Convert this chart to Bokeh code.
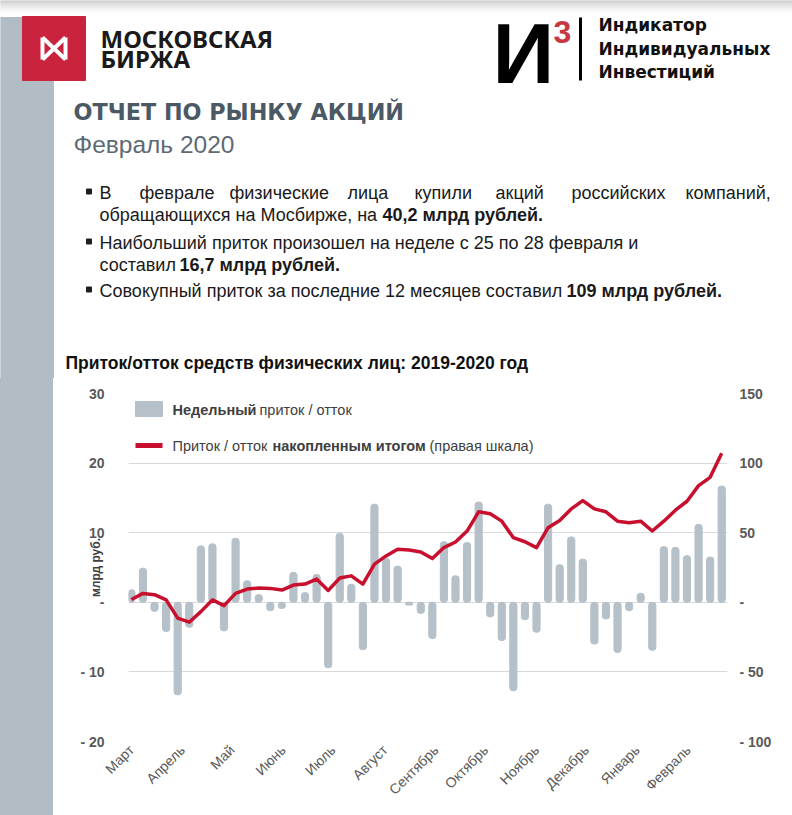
import math
from bokeh.plotting import figure
from bokeh.models import Range1d, LinearAxis, Label, FixedTicker, CustomJSTickFormatter, Div
from bokeh.layouts import column, row
from bokeh.embed import file_html
from bokeh.resources import INLINE

# ---------------- data ----------------
weeks = list(range(52))
weekly_flow = [1.8, 4.9, -1.3, -4.2, -13.3, -3.6, 8.1, 8.4, -4.1, 9.2,
               3.1, 1.1, -1.2, -0.9, 4.3, 1.4, 4.0, -9.4, 9.9, 2.6,
               -6.8, 14.1, 6.3, 5.2, -0.4, -1.6, -5.2, 8.7, 3.8, 8.6,
               14.4, -2.1, -5.5, -12.7, -2.5, -4.3, 14.1, 5.4, 9.4, 6.2,
               -6.0, -2.4, -7.2, -1.2, 1.3, -6.9, 8.0, 7.9, 6.7, 11.2,
               6.5, 16.7]
cumulative = [2.0, 6.4, 5.5, 1.7, -11.4, -14.3, -6.7, 1.7, -2.4, 6.4,
              9.5, 10.2, 10.0, 8.8, 12.4, 13.1, 16.7, 8.5, 17.4, 19.0,
              13.1, 27.4, 33.3, 38.1, 37.6, 36.2, 31.4, 39.3, 43.3, 51.2,
              65.0, 63.6, 58.3, 46.4, 43.5, 39.3, 53.6, 58.8, 67.1, 73.1,
              67.1, 65.0, 58.3, 57.1, 58.3, 51.2, 58.3, 66.2, 72.6, 83.8,
              89.8, 107.1]
months = ["Март", "Апрель", "Май", "Июнь", "Июль", "Август", "Сентябрь",
          "Октябрь", "Ноябрь", "Декабрь", "Январь", "Февраль"]
month_weeks = [0, 4.4, 8.7, 13.1, 17.4, 21.9, 26.3, 30.6, 35.0, 39.3, 43.7, 48.1]
left_ticks = [-20, -10, 0, 10, 20, 30]
right_ticks = [-100, -50, 0, 50, 100, 150]

# ---------------- styles ----------------
W, H1, H2, SIDE = 792, 378, 437, 53
SIDEBAR = "#b1bcc4"
RED = "#c9233e"
BAR = "#b5c0c8"
LINE = "#c8102e"
FONT = "Liberation Sans"


def lab(fig, x, y, text, size, color="#1a1a1a", bold=False, font=FONT,
        align="left", baseline="middle", angle=0):
    fig.add_layout(Label(x=x, y=y, text=text, text_font=font,
                         text_font_size=f"{size}px", text_color=color,
                         text_font_style="bold" if bold else "normal",
                         text_align=align, text_baseline=baseline, angle=angle))


# ---------------- header ----------------
hdr = figure(width=W, height=H1, x_range=Range1d(0, W), y_range=Range1d(H1, 0),
             output_backend="svg", toolbar_location=None, min_border=0,
             x_axis_location=None, y_axis_location=None, outline_line_color=None)
hdr.grid.visible = False

grad = ["#cdcdcd", "#d2d2d2", "#d7d7d7", "#dcdcdc", "#e1e1e1", "#e5e5e5", "#e9e9e9",
        "#ededed", "#f1f1f1", "#f4f4f4", "#f7f7f7", "#f9f9f9", "#fbfbfb", "#fdfdfd", "#fefefe"]
hdr.quad(left=0, right=W, top=list(range(15)), bottom=list(range(1, 16)), color=grad)
hdr.quad(left=0, right=SIDE, top=17, bottom=H1 + 2, color=SIDEBAR)
hdr.quad(left=22, right=85, top=16, bottom=80, color=RED)
hdr.multi_line(xs=[[42, 42], [65, 65], [42, 65], [65, 42]],
               ys=[[37, 59], [37, 59], [37, 59], [37, 59]],
               line_color="white", line_width=4)
lab(hdr, 100, 38, "МОСКОВСКАЯ", 24, color="#1a1a1a", bold=True, font="Noto Sans")
lab(hdr, 100, 58, "БИРЖА", 24, color="#1a1a1a", bold=True, font="Noto Sans")

lab(hdr, 492, 52, "И", 86, color="black", bold=True)
lab(hdr, 553, 31, "3", 32, color="#c4393f", bold=True)
hdr.segment(x0=580, y0=17, x1=580, y1=80, line_width=3, line_color="black")
for yy, t in zip([24, 48, 71], ["Индикатор", "Индивидуальных", "Инвестиций"]):
    lab(hdr, 598, yy, t, 17, color="#111111", bold=True, font="DejaVu Sans")

lab(hdr, 73, 111, "ОТЧЕТ ПО РЫНКУ АКЦИЙ", 22.3, color="#4b5964", bold=True, font="DejaVu Sans")
lab(hdr, 73, 144, "Февраль 2020", 24.5, color="#5d6a74")

for yc in [191, 241, 289]:
    hdr.quad(left=86, right=91, top=yc - 2.5, bottom=yc + 2.5, color="#1f1f1f")

FS = 18
line1 = ["В", "феврале", "физические", "лица", "купили", "акций", "российских", "компаний,"]
line1_x = [99, 139, 229, 347, 414, 495, 571, 685]
for w, xx in zip(line1, line1_x):
    lab(hdr, xx, 192, w, FS)
lab(hdr, 99, 214, "обращающихся на Мосбирже, на", FS)
lab(hdr, 382, 214, "40,2 млрд рублей.", FS, bold=True)
lab(hdr, 99, 242, "Наибольший приток произошел на неделе с 25 по 28 февраля и", FS)
lab(hdr, 99, 264, "составил", FS)
lab(hdr, 179, 264, "16,7 млрд рублей.", FS, bold=True)
lab(hdr, 99, 290, "Совокупный приток за последние 12 месяцев составил", FS)
lab(hdr, 566, 290, "109 млрд рублей.", FS, bold=True)

lab(hdr, 65, 362, "Приток/отток средств физических лиц: 2019-2020 год", 17.5,
    color="#111111", bold=True)

# ---------------- sidebar next to chart ----------------
side = Div(text="", width=SIDE, height=H2,
           styles={"background-color": SIDEBAR, "margin": "0", "padding": "0"})

# ---------------- chart ----------------
X0, X1 = -0.25, 51.5
p = figure(width=W - SIDE, height=H2, x_range=Range1d(X0, X1), y_range=Range1d(-20, 30),
           output_backend="svg", toolbar_location=None,
           min_border_left=75, min_border_right=65, min_border_top=15, min_border_bottom=74,
           outline_line_color=None)
p.extra_y_ranges = {"right": Range1d(-100, 150)}

fmt = CustomJSTickFormatter(code="""
    if (tick == 0) { return "-"; }
    if (tick < 0) { return "- " + (-tick); }
    return "" + tick;
""")

p.yaxis.ticker = FixedTicker(ticks=left_ticks)
p.yaxis.formatter = fmt
p.ygrid.ticker = FixedTicker(ticks=left_ticks)
p.ygrid.grid_line_color = "#d9d9d9"
p.xgrid.visible = False

ry = LinearAxis(y_range_name="right", ticker=FixedTicker(ticks=right_ticks), formatter=fmt)
p.add_layout(ry, "right")

p.xaxis.ticker = FixedTicker(ticks=month_weeks)
p.xaxis.formatter = CustomJSTickFormatter(args=dict(names=months),
                                          code="return names[index];")
p.xaxis.major_label_orientation = math.pi / 4
p.xaxis.major_label_text_font_size = "14px"
p.xaxis.major_label_text_color = "#595959"
p.xaxis.major_label_text_font = FONT
p.xaxis.major_label_standoff = 6

for ax in p.axis:
    ax.axis_line_color = None
    ax.major_tick_line_color = None
    ax.minor_tick_line_color = None
    ax.major_tick_out = 0
    ax.major_tick_in = 0
    ax.minor_tick_out = 0
for ax in [p.yaxis[0], ry]:
    ax.major_label_text_font = FONT
    ax.major_label_text_font_style = "bold"
    ax.major_label_text_font_size = "14px"
    ax.major_label_text_color = "#595959"
p.yaxis[0].major_label_standoff = 24
ry.major_label_standoff = 12

yl = p.yaxis[0]
yl.axis_label = "млрд руб."
yl.axis_label_text_font = FONT
yl.axis_label_text_font_style = "bold"
yl.axis_label_text_font_size = "12px"
yl.axis_label_text_color = "#404040"
yl.axis_label_standoff = -26

p.vbar(x=weeks, top=weekly_flow, bottom=0, width=0.62, color=BAR, border_radius=3)
p.line(x=weeks, y=cumulative, y_range_name="right", line_color=LINE,
       line_width=3.5, line_join="round")

# pixel helpers for legend placement (page px -> data)
PX_PER_X = 599 / (X1 - X0)


def dx(px):
    return X0 + (px - 128) / PX_PER_X


def dy(py):
    return 30 - (py - 393) * 50 / 348


p.quad(left=dx(135), right=dx(162), top=dy(401), bottom=dy(416), color=BAR)
p.segment(x0=dx(135), y0=dy(445), x1=dx(162), y1=dy(445), line_color=LINE, line_width=5)
LG = "#404040"
LF = 14.5
lab(p, dx(172), dy(409), "Недельный", LF, color=LG, bold=True)
lab(p, dx(259), dy(409), "приток / отток", LF, color=LG)
lab(p, dx(172), dy(445), "Приток / отток", LF, color=LG)
lab(p, dx(272), dy(445), "накопленным итогом", LF, color=LG, bold=True)
lab(p, dx(429), dy(445), "(правая шкала)", LF, color=LG)

layout = column(hdr, row(side, p))
open("out.html", "w").write(file_html(layout, INLINE))
